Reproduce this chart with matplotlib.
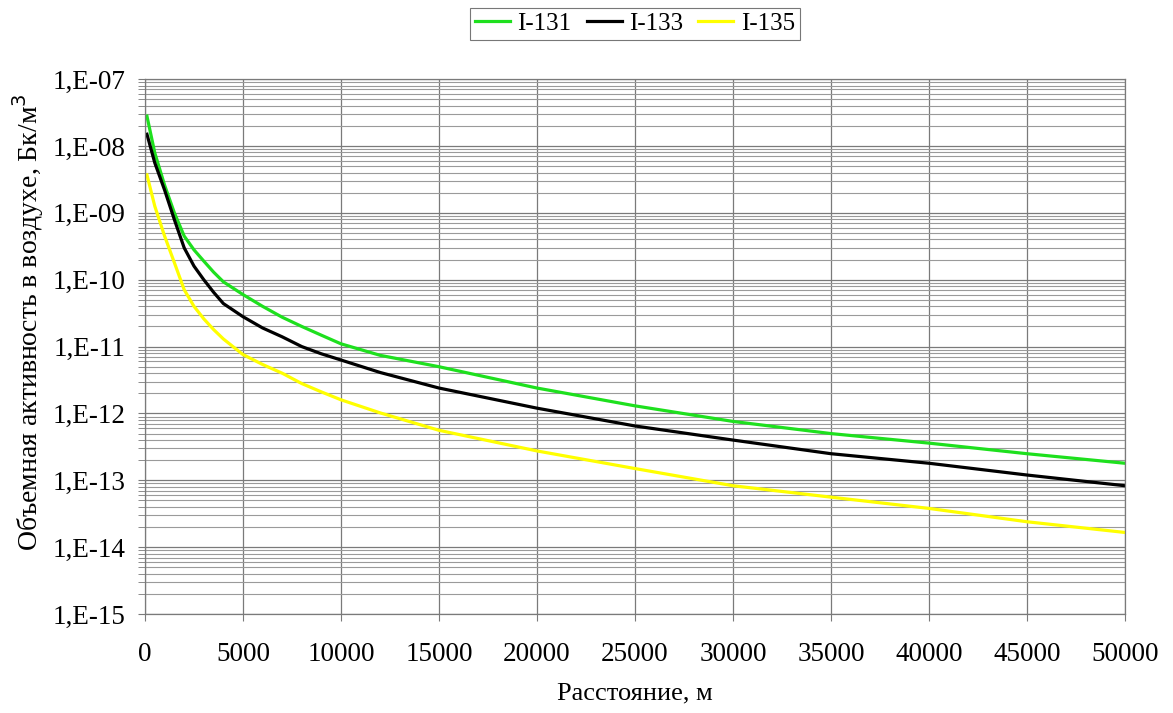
import math
import matplotlib
matplotlib.use("Agg")
import matplotlib.pyplot as plt
from matplotlib.ticker import LogLocator, FuncFormatter, MultipleLocator, NullFormatter

plt.rcParams['font.family'] = ['Liberation Serif', 'DejaVu Serif']

# расстояние от источника, м
distance = [100, 500, 1000, 1500, 2000, 2500, 3000, 3500, 4000, 5000, 6000,
            7000, 8000, 9000, 10000, 12000, 15000, 20000, 25000, 30000, 35000,
            40000, 45000, 50000]

# объемная активность, Бк/м3
i131 = [2.8e-8, 7.9e-9, 2.6e-9, 1.0e-9, 4.5e-10, 2.8e-10, 1.9e-10, 1.3e-10,
        9.3e-11, 6.0e-11, 4.0e-11, 2.75e-11, 2.0e-11, 1.48e-11, 1.1e-11,
        7.4e-12, 5.0e-12, 2.4e-12, 1.3e-12, 7.6e-13, 5.0e-13, 3.6e-13,
        2.5e-13, 1.8e-13]
i133 = [1.5e-8, 5.6e-9, 2.2e-9, 7.9e-10, 3.0e-10, 1.6e-10, 1.0e-10, 6.5e-11,
        4.4e-11, 2.8e-11, 1.9e-11, 1.4e-11, 1.0e-11, 7.8e-12, 6.3e-12,
        4.1e-12, 2.4e-12, 1.2e-12, 6.5e-13, 4.0e-13, 2.5e-13, 1.8e-13,
        1.2e-13, 8.3e-14]
i135 = [3.7e-9, 1.26e-9, 4.5e-10, 1.8e-10, 7.1e-11, 4.0e-11, 2.6e-11, 1.8e-11,
        1.3e-11, 7.6e-12, 5.4e-12, 4.0e-12, 2.8e-12, 2.1e-12, 1.6e-12,
        1.02e-12, 5.6e-13, 2.75e-13, 1.5e-13, 8.3e-14, 5.6e-14, 3.8e-14,
        2.4e-14, 1.66e-14]

fig = plt.figure(figsize=(11.73, 7.13), dpi=100)
ax = fig.add_axes([0.1236, 0.1388, 0.8354, 0.7502])

ax.plot(distance, i131, color='#1ee01e', lw=2.3, label='I-131')
ax.plot(distance, i133, color='black', lw=2.3, label='I-133')
ax.plot(distance, i135, color='#ffff00', lw=2.3, label='I-135')

ax.set_yscale('log')
ax.set_ylim(1e-15, 1e-7)
ax.set_xlim(0, 50000)

ax.xaxis.set_major_locator(MultipleLocator(5000))
ax.yaxis.set_major_locator(LogLocator(base=10, numticks=20))
ax.yaxis.set_minor_locator(LogLocator(base=10, subs=range(2, 10), numticks=100))
ax.yaxis.set_minor_formatter(NullFormatter())
ax.yaxis.set_major_formatter(
    FuncFormatter(lambda v, p: '1,E-%02d' % round(-math.log10(v))))

ax.grid(True, which='major', color='#7a7a7a', lw=0.9)
ax.grid(True, which='minor', axis='y', color='#9a9a9a', lw=0.8)
ax.set_axisbelow(True)

for s in ax.spines.values():
    s.set_color('#7a7a7a')
    s.set_linewidth(0.9)

ax.tick_params(axis='both', which='both', direction='out', length=5,
               color='#7a7a7a', labelsize=19.5)
ax.tick_params(axis='x', pad=15)
ax.tick_params(axis='y', pad=9)

ax.set_xlabel('Расстояние, м', fontsize=19)
ax.xaxis.set_label_coords(0.5, -0.128)
ax.set_ylabel('Объемная активность в воздухе, Бк/м$^3$', fontsize=20)
ax.yaxis.set_label_coords(-0.101, 0.546)

leg = ax.legend(loc='lower center', bbox_to_anchor=(0.5, 1.073), ncol=3,
                fontsize=18, frameon=True, fancybox=False, edgecolor='#555555',
                handlelength=1.4, handletextpad=0.3, columnspacing=0.6,
                borderpad=0.2, borderaxespad=0)
leg.get_frame().set_linewidth(0.8)

fig.savefig('out.png', dpi=100)
